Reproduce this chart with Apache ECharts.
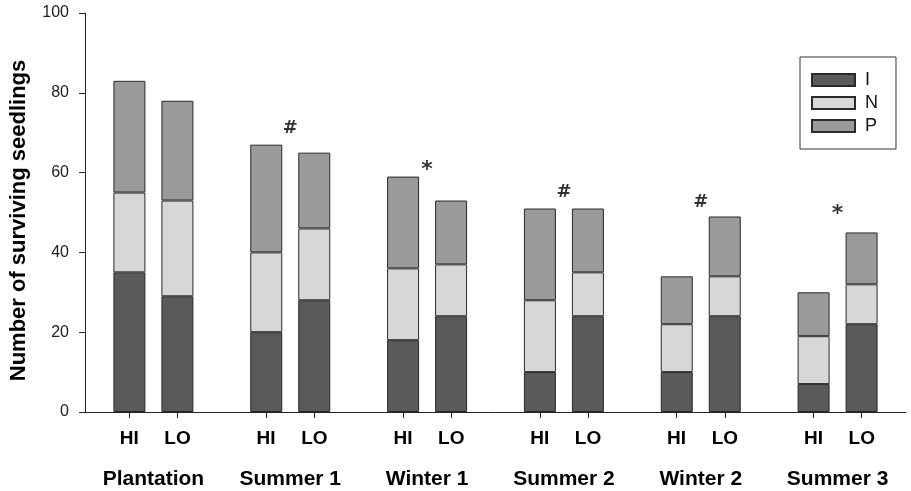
<!DOCTYPE html>
<html>
<head>
<meta charset="utf-8">
<script src="https://cdn.jsdelivr.net/npm/echarts@6/dist/echarts.min.js"></script>
<style>
html,body{margin:0;padding:0;background:#fff;}
#c{width:911px;height:491px;}
</style>
</head>
<body>
<div id="c"></div>
<script>
// ---- data ----
var groups = ['Plantation', 'Summer 1', 'Winter 1', 'Summer 2', 'Winter 2', 'Summer 3'];
var subLabels = ['HI', 'LO'];
var seriesNames = ['I', 'N', 'P'];
// HI treatment
var hiI = [35, 20, 18, 10, 10, 7];
var hiN = [20, 20, 18, 18, 12, 12];
var hiP = [28, 27, 23, 23, 12, 11];
// LO treatment
var loI = [29, 28, 24, 24, 24, 22];
var loN = [24, 18, 13, 11, 10, 10];
var loP = [25, 19, 16, 16, 15, 13];
// significance markers and the height (y value) they sit at
var sigMarks = ['', '#', '*', '#', '#', '*'];
var sigLevel = [null, 71, 60.5, 55, 52.5, 49.5];
var yTicks = [0, 20, 40, 60, 80, 100];

// ---- styling ----
var fills = {I: '#5a5a5a', N: '#d7d7d7', P: '#9a9a9a'};
var edge = '#2a2a2a';
var font = 'Liberation Sans, Arial, Helvetica, sans-serif';

// sub-category axis: 17 slots per group, HI at slot 5, LO at slot 11
var SLOTS = 17, HI_SLOT = 5, LO_SLOT = 11;
var subCats = [];
groups.forEach(function () {
  for (var k = 0; k < SLOTS; k++) {
    subCats.push(k === HI_SLOT ? subLabels[0] : (k === LO_SLOT ? subLabels[1] : ''));
  }
});

function barSeries(name, data, stack) {
  return {
    name: name,
    type: 'bar',
    stack: stack,
    xAxisIndex: 0,
    data: data,
    barWidth: 32,
    barGap: '50%',
    itemStyle: {color: fills[name], borderColor: edge, borderWidth: 1},
    emphasis: {disabled: true}
  };
}

var chart = echarts.init(document.getElementById('c'));
chart.setOption({
  animation: false,
  backgroundColor: '#fff',
  grid: {left: 81, right: 5, top: 13, bottom: 79, containLabel: false},
  legend: {
    data: seriesNames,
    orient: 'vertical',
    left: 800,
    top: 57,
    icon: 'rect',
    itemWidth: 43,
    itemHeight: 12,
    itemGap: 5,
    padding: [14, 18, 14, 11],
    borderColor: '#333',
    borderWidth: 1,
    selectedMode: false,
    textStyle: {fontFamily: font, fontSize: 18, color: '#111', padding: [0, 0, 0, 5]}
  },
  xAxis: [
    {
      type: 'category',
      data: groups,
      axisLine: {show: true, lineStyle: {color: '#222', width: 1}},
      axisTick: {show: false},
      axisLabel: {
        interval: 0, margin: 57,
        fontFamily: font, fontSize: 21, fontWeight: 'bold', color: '#000'
      },
      splitLine: {show: false}
    },
    {
      type: 'category',
      data: subCats,
      position: 'bottom',
      axisLine: {show: false},
      axisTick: {
        show: true, alignWithLabel: true, length: 6,
        interval: function (i) { return subCats[i] !== ''; },
        lineStyle: {color: '#222', width: 1}
      },
      axisLabel: {
        interval: 0, margin: 17,
        fontFamily: font, fontSize: 19, fontWeight: 'bold', color: '#000'
      },
      splitLine: {show: false}
    }
  ],
  yAxis: {
    type: 'value',
    min: 0, max: 100, interval: 20,
    name: 'Number of surviving seedlings',
    nameLocation: 'middle',
    nameGap: 55,
    nameTextStyle: {
      fontFamily: font, fontSize: 22, fontWeight: 'bold', color: '#000',
      padding: [0, 16, 0, 0]
    },
    axisLine: {show: true, lineStyle: {color: '#222', width: 1}},
    axisTick: {show: true, length: 6, lineStyle: {color: '#222'}},
    axisLabel: {
      margin: 16, fontFamily: font, fontSize: 16, color: '#222',
      formatter: function (v) { return yTicks.indexOf(v) >= 0 ? String(v) : ''; }
    },
    splitLine: {show: false}
  },
  series: [
    barSeries('I', hiI, 'HI'),
    barSeries('N', hiN, 'HI'),
    barSeries('P', hiP, 'HI'),
    barSeries('I', loI, 'LO'),
    barSeries('N', loN, 'LO'),
    barSeries('P', loP, 'LO'),
    {
      name: 'sig',
      type: 'scatter',
      xAxisIndex: 0,
      data: sigLevel,
      symbol: 'circle',
      symbolSize: 1,
      itemStyle: {color: 'rgba(0,0,0,0)'},
      silent: true,
      label: {
        show: true, position: 'inside',
        formatter: function (p) {
          var m = sigMarks[p.dataIndex];
          return m === '*' ? '{s|*}' : '{h|' + m + '}';
        },
        rich: {
          h: {fontFamily: 'DejaVu Sans, sans-serif', fontSize: 18, fontWeight: 'bold', color: '#000'},
          s: {fontFamily: 'DejaVu Sans, sans-serif', fontSize: 22, fontWeight: 'bold', color: '#000'}
        }
      }
    }
  ]
});
</script>
</body>
</html>
